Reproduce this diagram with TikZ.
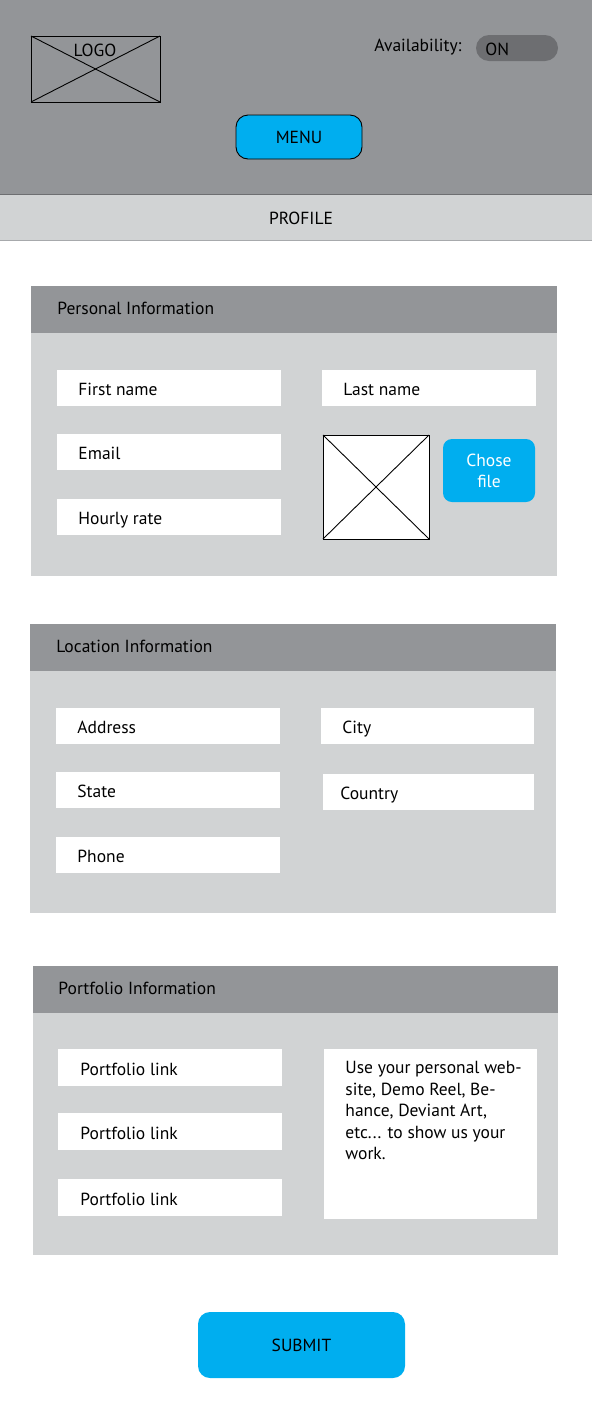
\documentclass[tikz,border=0pt]{standalone}
\usepackage{fontspec}
\setmainfont{PT Sans}
\usetikzlibrary{positioning}
\definecolor{headgray}{HTML}{939598}
\definecolor{panelgray}{HTML}{D1D3D4}
\definecolor{togglegray}{HTML}{6D6E71}
\definecolor{linegray}{HTML}{A7A9AC}
\definecolor{btnblue}{HTML}{00AEEF}
\tikzset{
  box/.style={rectangle, anchor=north west, inner sep=0pt, outer sep=0pt},
  field/.style={box, fill=white, minimum width=224pt, minimum height=36pt},
  fieldtext/.style={font=\fontsize{17.5}{21}\selectfont, inner sep=0pt},
  entry/.style={fieldtext, text height=12.5pt, text depth=4pt, yshift=-3.5pt},
  headtext/.style={fieldtext, text height=12.5pt, text depth=4pt, yshift=-0.5pt},
  panel/.style={box, fill=panelgray, minimum width=526pt, minimum height=290pt},
  panelhead/.style={box, fill=headgray, minimum width=526pt, minimum height=47pt},
}
\begin{document}
\begin{tikzpicture}[x=1pt,y=-1pt,line width=0.9pt]
\useasboundingbox (0,0) rectangle (592,1428);

% top bar
\node[box, fill=headgray, minimum width=592pt, minimum height=194pt] (top) at (0,0) {};
\node[box, fill=panelgray, minimum width=592pt, minimum height=46pt] (bar) at (0,194) {};
\draw[togglegray] (top.south west) -- (top.south east);
\draw[linegray] (bar.south west) -- (bar.south east);
\node[fieldtext] (profile) at (301,218) {PROFILE};

\node[box, draw, minimum width=129pt, minimum height=66pt] (logo) at (31,36) {};
\draw (logo.north west) -- (logo.south east);
\draw (logo.south west) -- (logo.north east);
\node[fieldtext] (logotext) at (95,50) {LOGO};

\node[box, fill=togglegray, rounded corners=13pt, minimum width=82pt, minimum height=26pt] (toggle) at (476,35) {};
\node[fieldtext, right=9pt of toggle.west, yshift=-1.5pt] (on) {ON};
\node[fieldtext, anchor=east] (avail) at (462,47) {Availability:};

\node[box, draw, fill=btnblue, rounded corners=12pt, minimum width=126pt, minimum height=44pt] (menu) at (236,115) {};
\node[fieldtext] (menutext) at (menu.center) {MENU};

% personal information
\node[panel] (pers) at (31,286) {};
\node[panelhead] (pershead) at (31,286) {};
\node[headtext, right=26pt of pershead.west] (perstitle) {Personal Information};

\node[field] (first) at (57,370) {};
\node[field] (email) at (57,434) {};
\node[field] (rate)  at (57,499) {};
\node[field, minimum width=214pt] (last) at (322,370) {};
\node[entry, right=21pt of first.west] {First name};
\node[entry, right=21pt of email.west] {Email};
\node[entry, right=21pt of rate.west]  {Hourly rate};
\node[entry, right=21pt of last.west]  {Last name};

\node[box, draw, fill=white, minimum width=106pt, minimum height=104pt] (photo) at (323,435) {};
\draw (photo.north west) -- (photo.south east);
\draw (photo.south west) -- (photo.north east);
\node[box, fill=btnblue, rounded corners=9pt, minimum width=92pt, minimum height=63pt] (chose) at (443,439) {};
\node[fieldtext, text=white, align=center] at (chose.center) {Chose\\file};

% location information
\node[panel, minimum height=289pt] (loc) at (30,624) {};
\node[panelhead] (lochead) at (30,624) {};
\node[headtext, right=26pt of lochead.west] (loctitle) {Location Information};

\node[field] (address) at (56,708) {};
\node[field] (state)   at (56,772) {};
\node[field] (phone)   at (56,837) {};
\node[field, minimum width=213pt] (city)    at (321,708) {};
\node[field, minimum width=211pt] (country) at (323,774) {};
\node[entry, right=21pt of address.west] {Address};
\node[entry, right=21pt of state.west]   {State};
\node[entry, right=21pt of phone.west]   {Phone};
\node[entry, right=21pt of city.west]    {City};
\node[entry, right=17pt of country.west] {Country};

% portfolio information
\node[panel, minimum width=525pt, minimum height=289pt] (port) at (33,966) {};
\node[panelhead, minimum width=525pt] (porthead) at (33,966) {};
\node[headtext, right=25pt of porthead.west] (porttitle) {Portfolio Information};

\foreach \y/\name in {1049/linka, 1113/linkb, 1179/linkc} {
  \node[field, minimum height=37pt] (\name) at (58,\y) {};
  \node[entry, right=22pt of \name.west] {Portfolio link};
}
\node[box, fill=white, minimum width=213pt, minimum height=170pt] (note) at (324,1049) {};
\node[fieldtext, anchor=north west, align=left, font=\fontsize{17.5}{21.5}\selectfont] (notetext) at (345,1061)
  {Use your personal web-\\site, Demo Reel, Be-\\hance, Deviant Art,\\etc... to show us your\\work.};

% submit
\node[box, fill=btnblue, rounded corners=12pt, minimum width=207pt, minimum height=66pt] (submit) at (198,1312) {};
\node[fieldtext] at (submit.center) {SUBMIT};
\end{tikzpicture}
\end{document}
